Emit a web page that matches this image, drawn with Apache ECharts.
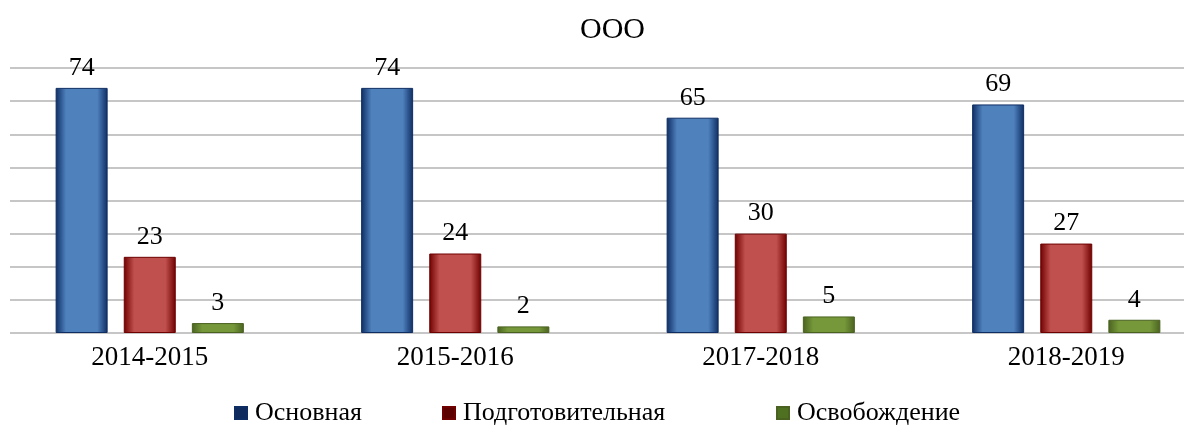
<!DOCTYPE html>
<html>
<head>
<meta charset="utf-8">
<script src="https://cdn.jsdelivr.net/npm/echarts@6/dist/echarts.min.js"></script>
<style>
  html, body { margin: 0; padding: 0; background: #fff; }
  #main { width: 1184px; height: 432px; }
</style>
</head>
<body>
<div id="main"></div>
<script>
// данные
var years = ['2014-2015', '2015-2016', '2017-2018', '2018-2019'];
var osnovnaya = [74, 74, 65, 69];
var podgot = [23, 24, 30, 27];
var osvob = [3, 2, 5, 4];
var seriesNames = ['Основная', 'Подготовительная', 'Освобождение'];

var font = '"Liberation Serif", "Times New Roman", serif';

// заливка столбца: тёмные края, светлая середина
function barFill(edge, mid) {
  return new echarts.graphic.LinearGradient(0, 0, 1, 0, [
    {offset: 0, color: edge},
    {offset: 0.2, color: mid},
    {offset: 0.8, color: mid},
    {offset: 1, color: edge}
  ]);
}

function makeSeries(name, data, edge, mid) {
  return {
    name: name,
    type: 'bar',
    xAxisIndex: 1,
    yAxisIndex: 1,
    data: data,
    barWidth: 52,
    barGap: '31%',
    itemStyle: {
      color: barFill(edge, mid),
      borderColor: edge,
      borderWidth: 1
    },
    label: {
      show: true,
      position: 'top',
      distance: 7,
      color: '#000',
      fontSize: 26,
      fontFamily: font
    }
  };
}

// одна подпись легенды
function legendItem(name, color, x) {
  return {
    left: x,
    top: 395,
    icon: 'rect',
    itemWidth: 12,
    itemHeight: 12,
    itemGap: 0,
    textStyle: {color: '#000', fontSize: 26, fontFamily: font, padding: [0, 0, 0, 3]},
    data: [{name: name, itemStyle: {color: color}}]
  };
}

var myChart = echarts.init(document.getElementById('main'));

var option = {
  animation: false,
  backgroundColor: '#fff',
  title: {
    text: 'ООО',
    left: 575,
    top: 10,
    textStyle: {color: '#000', fontSize: 30, fontWeight: 'normal', fontFamily: font}
  },
  legend: [
    legendItem(seriesNames[0], '#0F2A5C', 229),
    legendItem(seriesNames[1], '#5C0000', 437),
    legendItem(seriesNames[2], '#4F7020', 771)
  ],
  grid: [
    // сетка с линиями
    {left: 10, right: 0, top: 68, bottom: 99},
    // сетка со столбцами (шире окна, как в оригинале)
    {left: -3, width: 1222, top: 68, bottom: 99, outerBoundsMode: 'none'}
  ],
  xAxis: [
    {gridIndex: 0, type: 'category', data: years, show: false},
    {
      gridIndex: 1,
      type: 'category',
      data: years,
      axisLine: {show: false},
      axisTick: {show: false},
      axisLabel: {color: '#000', fontSize: 27, fontFamily: font, margin: 11}
    }
  ],
  yAxis: [
    {
      gridIndex: 0,
      type: 'value',
      min: 0,
      max: 80,
      interval: 10,
      axisLine: {show: false},
      axisTick: {show: false},
      axisLabel: {show: false},
      splitLine: {lineStyle: {color: '#C6C6C6', width: 2}}
    },
    {
      gridIndex: 1,
      type: 'value',
      min: 0,
      max: 80,
      interval: 10,
      show: false,
      splitLine: {show: false}
    }
  ],
  series: [
    makeSeries(seriesNames[0], osnovnaya, '#0E2D62', '#4F81BD'),
    makeSeries(seriesNames[1], podgot, '#6E0000', '#C0504D'),
    makeSeries(seriesNames[2], osvob, '#4A6220', '#76983A')
  ]
};

myChart.setOption(option);
</script>
</body>
</html>
